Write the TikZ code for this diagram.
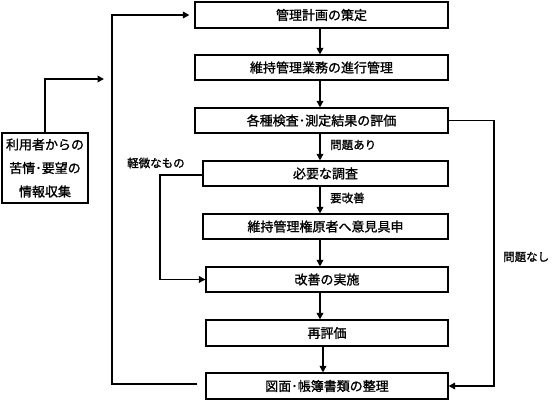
\documentclass[tikz,border=0pt]{standalone}
\usepackage{fontspec}
\setmainfont{Noto Sans CJK JP}[RawFeature={embolden=1.2}]
\usetikzlibrary{arrows.meta,calc}
\tikzset{
  box/.style={draw=black,line width=1.1pt,rectangle,inner sep=0pt,font=\fontsize{13}{15}\selectfont,anchor=center},
  arr/.style={line width=1.7pt,-{Triangle[length=6.5pt,width=6.5pt]}},
  lbl/.style={font=\fontsize{11.5}{13}\selectfont,inner sep=0pt}
}
\begin{document}
\begin{tikzpicture}[x=1pt,y=-1pt]
\useasboundingbox[fill=white] (0,0) rectangle (552,400);
% boxes
\node[box,minimum width=253pt,minimum height=26pt] (b1) at (321.5,15) {管理計画の策定};
\node[box,minimum width=253pt,minimum height=25pt] (b2) at (321.5,67.5) {維持管理業務の進行管理};
\node[box,minimum width=253pt,minimum height=25pt] (b3) at (321.5,120.5) {各種検査･測定結果の評価};
\node[box,minimum width=245pt,minimum height=25pt] (b4) at (325.5,173.5) {必要な調査};
\node[box,minimum width=245pt,minimum height=25pt] (b5) at (325.5,226.5) {維持管理権原者へ意見具申};
\node[box,minimum width=242pt,minimum height=25pt] (b6) at (327,279.5) {改善の実施};
\node[box,minimum width=242pt,minimum height=26pt] (b7) at (327,333) {再評価};
\node[box,minimum width=242pt,minimum height=26pt] (b8) at (327,386) {図面･帳簿書類の整理};
\node[box,minimum width=86pt,minimum height=70pt,align=center,font=\fontsize{13}{23.5}\selectfont] (u) at (45,168) {利用者からの\\苦情･要望の\\情報収集};
% coordinates
\coordinate (cx) at (320,0);
\coordinate (cy) at (323,0);
\coordinate (ua) at (104,79);
\coordinate (lp) at (112,0);
\coordinate (rp) at (494,0);
\coordinate (kp) at (160,0);
% central arrows
\draw[arr] (b1.south -| cx) -- (b2.north -| cx);
\draw[arr] (b2.south -| cx) -- (b3.north -| cx);
\draw[arr] (b3.south -| cx) -- (b4.north -| cx);
\draw[arr] (b4.south -| cx) -- (b5.north -| cx);
\draw[arr] (b5.south -| cx) -- (b6.north -| cx);
\draw[arr] (b6.south -| cx) -- (b7.north -| cx);
\draw[arr] (b7.south -| cy) -- (b8.north -| cy);
% user arrow
\draw[arr] (u.north) |- (ua);
% big loop
\draw[arr,shorten >=5pt] ([xshift=-8pt,yshift=2pt]b8.west) -- ([yshift=2pt]b8.west -| lp) -- (b1.west -| lp) -- (b1.west);
% minor route
\draw[arr] ([yshift=-1.5pt]b4.west) -- ([yshift=-1.5pt]b4.west -| kp) -- (b6.west -| kp) -- (b6.west);
% no problem route
\draw[arr] (b3.east) -- (b3.east -| rp) -- (b8.east -| rp) -- (b8.east);
% labels
\node[lbl,anchor=west] (l1) at (330,145) {問題あり};
\node[lbl,anchor=west] (l2) at (330,198) {要改善};
\node[lbl,anchor=west] (l3) at (127,163) {軽微なもの};
\node[lbl,anchor=west] (l4) at (503,257) {問題なし};
\end{tikzpicture}
\end{document}
